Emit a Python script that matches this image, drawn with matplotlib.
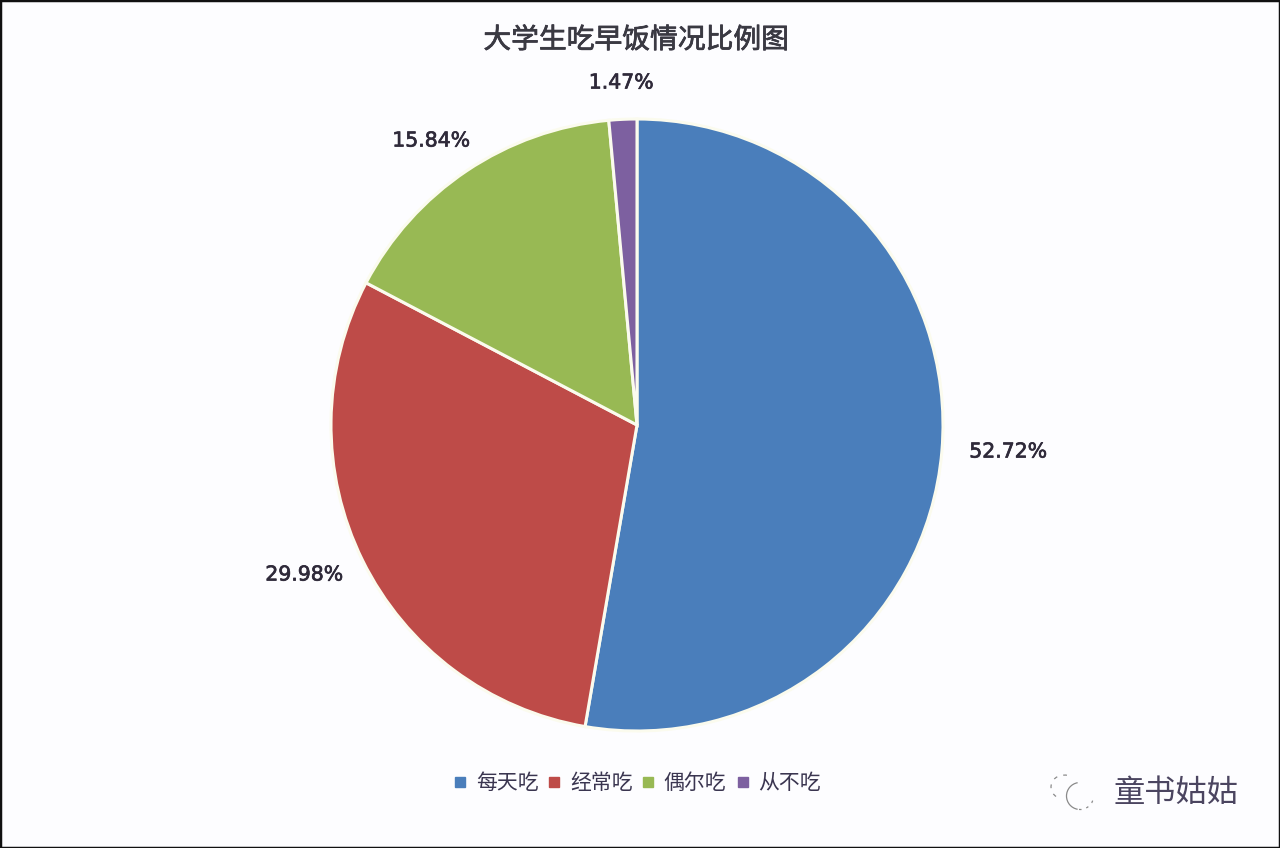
import matplotlib
matplotlib.use('Agg')
import matplotlib.pyplot as plt
import matplotlib.patheffects as pe
from matplotlib.patches import Rectangle, Arc

plt.rcParams['font.family'] = ['Noto Sans CJK SC', 'DejaVu Sans']

title = '大学生吃早饭情况比例图'
categories = ['每天吃', '经常吃', '偶尔吃', '从不吃']
values = [52.72, 29.98, 15.84, 1.47]
labels = ['52.72%', '29.98%', '15.84%', '1.47%']
colors = ['#4a7ebb', '#be4b48', '#98b954', '#7d60a0']
text_color = '#2f2a3a'

W, H = 1280, 848
fig = plt.figure(figsize=(W/100, H/100), dpi=100, facecolor='#fdfdff')

# pie centre about (637,425), radius about 306 px
ax = fig.add_axes([(637-306)/W, 1-(425+306)/H, 612/W, 612/H])
wedges, _ = ax.pie(values, colors=colors, startangle=90, counterclock=False,
                   radius=1.0, wedgeprops={'edgecolor': '#fbfbee', 'linewidth': 2.2})
ax.set_xlim(-1.0, 1.0)
ax.set_ylim(-1.0, 1.0)

# overlay in pixel coords for the text, legend and watermark
ov = fig.add_axes([0, 0, 1, 1], facecolor='none')
ov.set_xlim(0, W)
ov.set_ylim(H, 0)
ov.axis('off')

# slightly heavier strokes, the reference text is blurred and dark
heavy = [pe.withStroke(linewidth=0.5, foreground=text_color)]

# percent labels
label_pos = [(1008, 452), (304, 575), (431, 141), (621, 83)]
for lab, (x, y) in zip(labels, label_pos):
    ov.text(x, y, lab, ha='center', va='center', fontsize=14.7,
            color=text_color, family='DejaVu Sans', path_effects=heavy)

ov.text(636, 40, title, ha='center', va='center', fontsize=20, color='#3a3a42',
        fontweight='medium', path_effects=heavy)

# legend
leg_x = [460, 554, 648, 743]
text_x = [476, 570, 663, 758]
for name, c, x, tx in zip(categories, colors, leg_x, text_x):
    ov.add_patch(Rectangle((x-5, 777), 10, 10, color=c))
    ov.text(tx, 783, name, ha='left', va='center', fontsize=15, color='#3a3550')

# watermark, faint wechat logo and name
ov.add_patch(Arc((1080, 796), 27, 27, theta1=100, theta2=260, color='#8a8a8a', lw=0.9))
ov.add_patch(Arc((1080, 796), 27, 27, theta1=20, theta2=95, color='#8a8a8a', lw=0.9, ls=(0, (2, 4))))
ov.add_patch(Arc((1064, 787), 26, 24, theta1=130, theta2=290, color='#8a8a8a', lw=0.9, ls=(0, (3, 5))))
ov.text(1176, 793, '童书姑姑', ha='center', va='center', fontsize=22.5, color='#4b4560')

# image frame
fig.add_artist(Rectangle((0, 0), 1, 1, transform=fig.transFigure, fill=False, edgecolor='#111111', linewidth=2.5))

fig.savefig('out.png', dpi=100, facecolor=fig.get_facecolor())
